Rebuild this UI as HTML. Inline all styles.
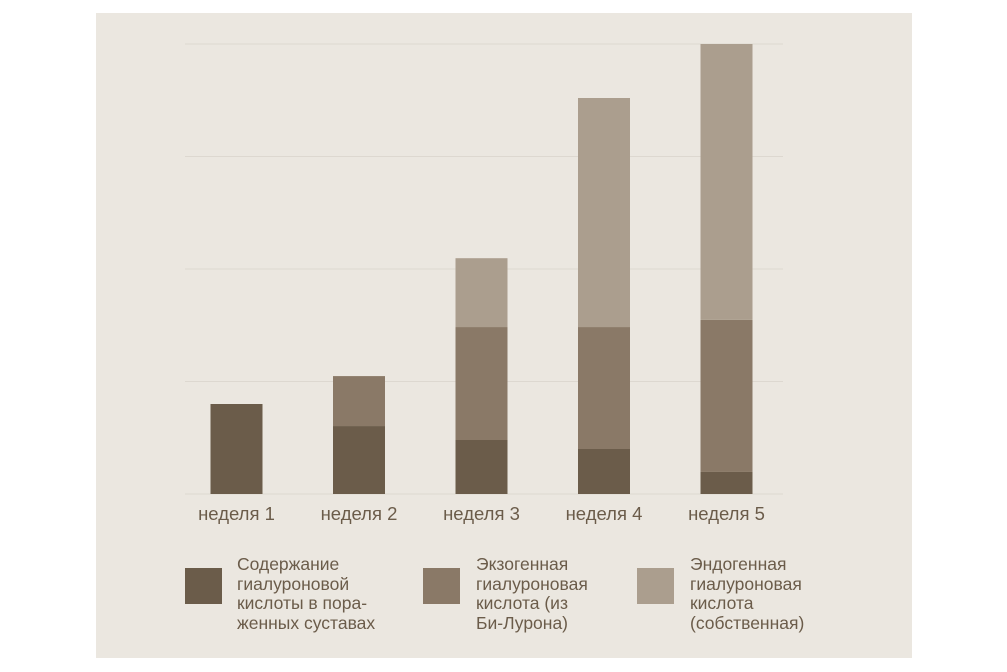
<!DOCTYPE html>
<html><head><meta charset="utf-8"><style>
body{margin:0;background:#fff;width:1007px;height:672px;overflow:hidden;font-family:"Liberation Sans",sans-serif}
#panel{position:absolute;left:96px;top:13px;width:816px;height:645px;background:#ebe7e0}
.lg{position:absolute;width:37px;height:36px}
.lt{position:absolute;font-size:17.5px;line-height:19.5px;color:#6b5c4a}
</style></head><body>
<div id="panel"></div>
<svg id="chart" width="1007" height="672" style="position:absolute;left:0;top:0"></svg>
<div class="lg" style="left:185px;top:568px;background:#6b5c4a"></div>
<div class="lt" style="left:237px;top:555px">Содержание<br>гиалуроновой<br>кислоты в пора-<br>женных суставах</div>
<div class="lg" style="left:423px;top:568px;background:#8a7967"></div>
<div class="lt" style="left:476px;top:555px">Экзогенная<br>гиалуроновая<br>кислота (из<br>Би-Лурона)</div>
<div class="lg" style="left:637px;top:568px;background:#ab9e8e"></div>
<div class="lt" style="left:690px;top:555px">Эндогенная<br>гиалуроновая<br>кислота<br>(собственная)</div>
<script>
const categories=["неделя 1","неделя 2","неделя 3","неделя 4","неделя 5"];
const affected=[20,15.1,12,10,4.9];
const exogenous=[0,11.1,25.1,27.1,33.8];
const endogenous=[0,0,15.3,50.9,61.3];
const gridTicks=[0,25,50,75,100];
const svg=document.getElementById('chart');
const NS='http://www.w3.org/2000/svg';
const y=v=>494-v*4.5;
const xc=i=>236.5+i*122.5;
const bw=52;
gridTicks.forEach(t=>{
 const l=document.createElementNS(NS,'line');
 
 
 l.setAttribute('x1',185);l.setAttribute('x2',783);
 l.setAttribute('y1',y(t));l.setAttribute('y2',y(t));
 l.setAttribute('stroke','#ddd8d0');l.setAttribute('stroke-width','1');
 svg.appendChild(l);
});
const series=[[affected,'#6b5c4a','affected'],[exogenous,'#8a7967','exogenous'],[endogenous,'#ab9e8e','endogenous']];
categories.forEach((c,i)=>{
 let base=0;
 series.forEach(([arr,col,nm])=>{
  const v=arr[i]; if(v<=0)return;
  const r=document.createElementNS(NS,'rect');
  
  
  r.setAttribute('x',xc(i)-bw/2);r.setAttribute('width',bw);
  r.setAttribute('y',y(base+v));r.setAttribute('height',v*4.5);
  r.setAttribute('fill',col);
  svg.appendChild(r);
  base+=v;
 });
 const t=document.createElementNS(NS,'text');
 
 
 t.setAttribute('x',xc(i));t.setAttribute('y',520);
 t.setAttribute('text-anchor','middle');t.setAttribute('font-size','18.5');
 t.setAttribute('fill','#6b5c4a');t.setAttribute('font-family','Liberation Sans, sans-serif');
 t.textContent=c;
 svg.appendChild(t);
});
</script>
</body></html>
